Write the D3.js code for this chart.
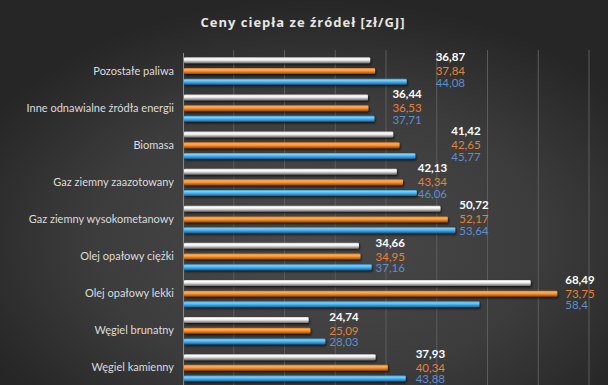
<!DOCTYPE html>
<html lang="pl">
  <head>
    <meta charset="UTF-8" />
    <title>Ceny ciepła ze źródeł</title>
    <script src="https://cdnjs.cloudflare.com/ajax/libs/d3/7.8.5/d3.min.js"></script>
    <style>
      body { margin: 0; background: #333; }
      svg { display: block; }
    </style>
  </head>
  <body>
    <figure id="chart" style="margin:0"></figure>

    <script>
      /** Data */
      const categories = [
        "Pozostałe paliwa",
        "Inne odnawialne źródła energii",
        "Biomasa",
        "Gaz ziemny zaazotowany",
        "Gaz ziemny wysokometanowy",
        "Olej opałowy ciężki",
        "Olej opałowy lekki",
        "Węgiel brunatny",
        "Węgiel kamienny",
      ];
      const series = ["s1", "s2", "s3"];
      const valuesS1 = [36.87, 36.44, 41.42, 42.13, 50.72, 34.66, 68.49, 24.74, 37.93];
      const valuesS2 = [37.84, 36.53, 42.65, 43.34, 52.17, 34.95, 73.75, 25.09, 40.34];
      const valuesS3 = [44.08, 37.71, 45.77, 46.06, 53.64, 37.16, 58.4, 28.03, 43.88];
      const xTicks = [0, 10, 20, 30, 40, 50, 60, 70, 80];

      /** Graph configs */
      const width = 608;
      const height = 385;
      const plotLeft = 183;
      const plotRight = 589;
      const plotTop = 52.5;
      const bandH = 37.1;
      const barH = 6;
      // label nudges (px) to the right of the longest bar in group, as placed in the source
      const labelNudge = [29, 18, 36, 1, 4, 4, 8, 4, 10];

      const seriesValues = [valuesS1, valuesS2, valuesS3];
      const fillIds = ["gWhite", "gOrange", "gBlue"];
      const labelColors = ["#ffffff", "#e8803a", "#5b8fd0"];
      const labelWeights = ["bold", "normal", "normal"];
      const labelDy = [-14, 0, 11.5];

      const xScale = d3.scaleLinear().domain([0, 80]).range([plotLeft, plotRight]);
      const yScale = d3
        .scaleBand()
        .domain(categories)
        .range([plotTop, plotTop + bandH * categories.length]);
      const inner = d3
        .scaleBand()
        .domain(series)
        .range([bandH / 2 - 13.7, bandH / 2 + 13.7])
        .paddingInner(0.44);

      const svg = d3
        .select("#chart")
        .append("svg")
        .attr("width", width)
        .attr("height", height);

      const defs = svg.append("defs");

      /** Background */
      const bg = defs
        .append("radialGradient")
        .attr("id", "bg")
        .attr("cx", "52%")
        .attr("cy", "62%")
        .attr("r", "62%");
      bg.append("stop").attr("offset", "0%").attr("stop-color", "#4a4a4a");
      bg.append("stop").attr("offset", "60%").attr("stop-color", "#3c3c3c");
      bg.append("stop").attr("offset", "100%").attr("stop-color", "#262626");

      /** Bar gradients */
      const grads = [
        ["gWhite", ["#c8c8c8", "#ffffff", "#e6e6e6", "#9a9a9a", "#6a6a6a"]],
        ["gOrange", ["#d0782a", "#ffb057", "#f7943a", "#c8640f", "#8a4205"]],
        ["gBlue", ["#3f9bd0", "#7fd0fa", "#4cb3ee", "#2a83c2", "#165a8e"]],
      ];
      grads.forEach(([id, cols]) => {
        const g = defs
          .append("linearGradient")
          .attr("id", id)
          .attr("x1", 0).attr("y1", 0).attr("x2", 0).attr("y2", 1);
        [0, 0.25, 0.5, 0.8, 1].forEach((o, i) =>
          g.append("stop").attr("offset", o).attr("stop-color", cols[i])
        );
      });

      const shadow = defs.append("filter").attr("id", "shadow")
        .attr("x", "-5%").attr("y", "-50%").attr("width", "110%").attr("height", "250%");
      shadow.append("feDropShadow")
        .attr("dx", 1).attr("dy", 1.5).attr("stdDeviation", 0.8)
        .attr("flood-color", "#000").attr("flood-opacity", 0.7);

      svg.append("rect").attr("width", width).attr("height", height).attr("fill", "url(#bg)");

      /** Title */
      svg
        .append("text")
        .attr("x", 303)
        .attr("y", 27)
        .attr("text-anchor", "middle")
        .attr("fill", "#e6e6e6")
        .attr("font-family", "'Open Sans', sans-serif")
        .attr("font-weight", "bold")
        .attr("font-size", 13)
        .attr("letter-spacing", 1)
        .text("Ceny ciepła ze źródeł [zł/GJ]");

      /** Gridlines */
      svg
        .append("g")
        .selectAll("line")
        .data(xTicks.slice(1))
        .join("line")
        .attr("x1", (d) => xScale(d))
        .attr("x2", (d) => xScale(d))
        .attr("y1", 50)
        .attr("y2", height)
        .attr("stroke", "#5c5c5c")
        .attr("stroke-width", 1);

      /** Category axis */
      const yAxis = d3.axisLeft(yScale).tickSize(0).tickPadding(9);
      const ay = svg.append("g").attr("transform", `translate(${plotLeft},0)`).call(yAxis);
      ay.select(".domain").attr("stroke", "#8a8a8a");
      ay.selectAll("text")
        .attr("fill", "#dcdcdc")
        .attr("font-family", "Lato, sans-serif")
        .attr("font-size", 11);

      /** Bars */
      const groups = svg
        .append("g")
        .selectAll("g")
        .data(categories)
        .join("g")
        .attr("transform", (d) => `translate(0,${yScale(d)})`);

      groups
        .selectAll("rect")
        .data((d, i) => series.map((s, k) => ({ s, k, v: seriesValues[k][i] })))
        .join("rect")
        .attr("x", xScale(0) + 1)
        .attr("y", (d) => inner(d.s) + (inner.bandwidth() - barH) / 2)
        .attr("width", (d) => xScale(d.v) - xScale(0) - 1)
        .attr("height", barH)
        .attr("rx", 1)
        .attr("fill", (d) => `url(#${fillIds[d.k]})`)
        .attr("filter", "url(#shadow)");

      /** Data labels */
      groups
        .selectAll("text")
        .data((d, i) =>
          series.map((s, k) => ({
            s,
            k,
            v: seriesValues[k][i],
            lx: xScale(d3.max(seriesValues, (sv) => sv[i])) + labelNudge[i],
          }))
        )
        .join("text")
        .attr("x", (d) => d.lx)
        .attr("y", (d) => bandH / 2 + labelDy[d.k])
        .attr("dy", "0.35em")
        .attr("fill", (d) => labelColors[d.k])
        .attr("font-weight", (d) => labelWeights[d.k])
        .attr("font-family", "Lato, sans-serif")
        .attr("font-size", 11.5)
        .text((d) => String(d.v).replace(".", ","));
    </script>
  </body>
</html>
